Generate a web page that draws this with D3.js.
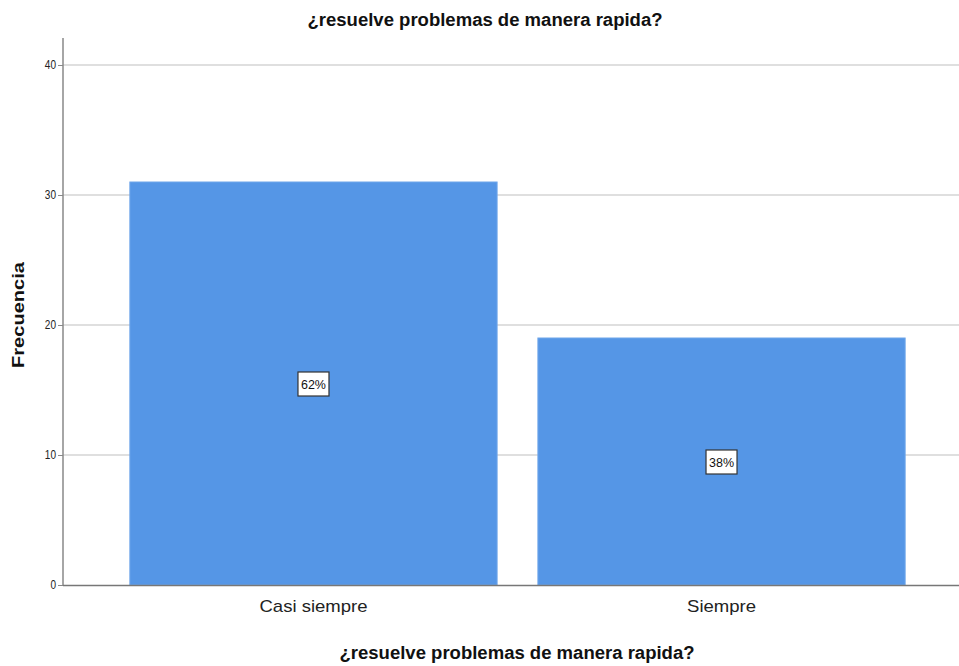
<!DOCTYPE html>
<html>
<head>
<meta charset="utf-8">
<script src="https://cdn.jsdelivr.net/npm/d3@7"></script>
<style>
  body { margin: 0; background: #fff; }
  svg { display: block; }
  text { font-family: "Liberation Sans", Arial, sans-serif; }
</style>
</head>
<body>
<svg id="chart" width="959" height="666"></svg>
<script>
// Frequencies per answer category
const categories = ["Casi siempre", "Siempre"];
const counts = [31, 19];
const percentLabels = ["62%", "38%"];
const yTicks = [0, 10, 20, 30, 40];
const chartTitle = "¿resuelve problemas de manera rapida?";
const yTitle = "Frecuencia";

const W = 959;
const svg = d3.select("#chart");

const y = d3.scaleLinear().domain([0, 40]).range([585, 65]);
const xb = d3.scaleBand().domain(categories).range([76, W]).paddingInner(0.1).paddingOuter(0.132);

// condensed look: squeeze text horizontally to a target width
function squeeze(sel, w) {
  sel.attr("textLength", w).attr("lengthAdjust", "spacingAndGlyphs");
}

// gridlines
svg.append("g").selectAll("line").data(yTicks.filter(d => d > 0)).join("line")
  .attr("x1", 63).attr("x2", W).attr("y1", d => y(d)).attr("y2", d => y(d))
  .attr("stroke", "#d4d4d4").attr("stroke-width", 1.5);

// bars
svg.append("g").selectAll("rect").data(categories).join("rect")
  .attr("x", d => xb(d)).attr("width", xb.bandwidth())
  .attr("y", (d, i) => y(counts[i])).attr("height", (d, i) => y(0) - y(counts[i]))
  .attr("fill", "#5596e6").attr("stroke", "#6fa6ea").attr("stroke-width", 1);

// y axis
const yAxis = d3.axisLeft(y).tickValues(yTicks).tickSize(5).tickFormat(d3.format("d"));
const ga = svg.append("g").attr("transform", "translate(63,0)").call(yAxis);
ga.select(".domain").remove();
ga.attr("font-family", null);
ga.selectAll(".tick line").attr("stroke", "#888");
ga.selectAll(".tick text").attr("x", -7).attr("font-size", 12).attr("fill", "#222")
  .each(function (d) { squeeze(d3.select(this), String(d).length * 5.6); });
svg.append("line").attr("x1", 63).attr("x2", 63).attr("y1", 38).attr("y2", 585.5)
  .attr("stroke", "#888").attr("stroke-width", 1.5);

// x axis
const xAxis = d3.axisBottom(xb).tickSize(0);
const gx = svg.append("g").attr("transform", "translate(0,585)").call(xAxis);
gx.select(".domain").remove();
gx.attr("font-family", null);
const xLabelWidths = [108, 69];
gx.selectAll(".tick text").attr("dy", 0).attr("y", 27).attr("font-size", 17).attr("fill", "#222")
  .each(function (d, i) { squeeze(d3.select(this), xLabelWidths[i]); });
svg.append("line").attr("x1", 63).attr("x2", W).attr("y1", 585.5).attr("y2", 585.5)
  .attr("stroke", "#777").attr("stroke-width", 1.5);

// percentage labels in boxes at mid-height of each bar
const lbl = svg.append("g").selectAll("g").data(categories).join("g")
  .attr("transform", (d, i) => `translate(${xb(d) + xb.bandwidth() / 2},${y(counts[i] / 2)})`);
lbl.append("rect").attr("x", -15.5).attr("y", -11.5).attr("width", 31).attr("height", 24)
  .attr("fill", "#fff").attr("stroke", "#333").attr("stroke-width", 1.2);
lbl.append("text").attr("text-anchor", "middle").attr("dy", "0.36em")
  .attr("y", 0.5).attr("font-size", 13).attr("fill", "#111").text((d, i) => percentLabels[i])
  .call(squeeze, 25);

// titles
svg.append("text").attr("x", 485).attr("y", 26).attr("text-anchor", "middle")
  .attr("font-size", 18).attr("font-weight", "bold").attr("fill", "#111").text(chartTitle)
  .call(squeeze, 355);
svg.append("text").attr("x", 517).attr("y", 659).attr("text-anchor", "middle")
  .attr("font-size", 18).attr("font-weight", "bold").attr("fill", "#111").text(chartTitle)
  .call(squeeze, 355);
svg.append("text").attr("transform", "translate(24,315) rotate(-90)").attr("text-anchor", "middle")
  .attr("font-size", 17).attr("font-weight", "bold").attr("fill", "#111").text(yTitle)
  .call(squeeze, 106);
</script>
</body>
</html>
